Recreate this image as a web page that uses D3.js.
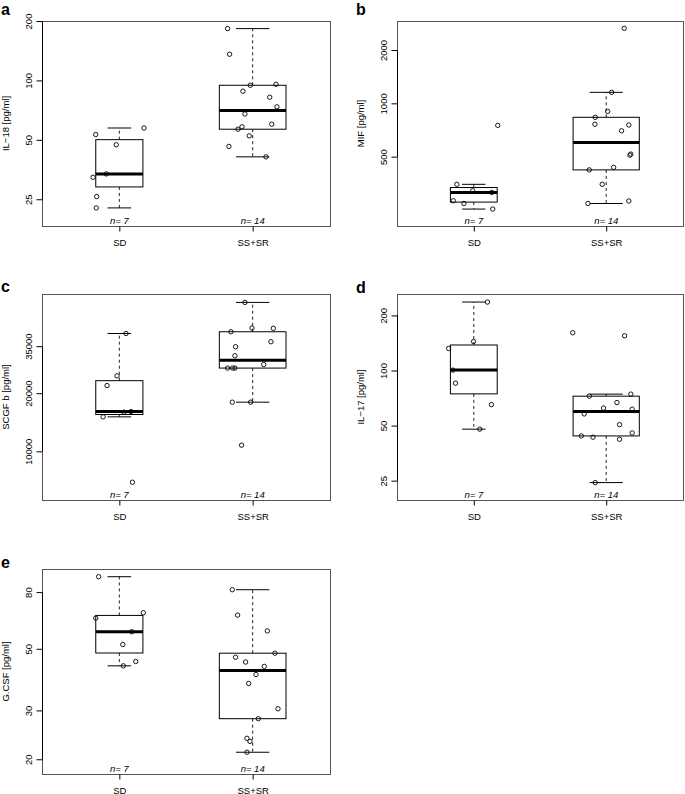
<!DOCTYPE html>
<html>
<head>
<meta charset="utf-8">
<script src="https://cdn.jsdelivr.net/npm/d3@7/dist/d3.min.js"></script>
<style>
  body { margin: 0; background: #fff; }
  text { font-family: "Liberation Sans", Arial, Helvetica, sans-serif; }
</style>
</head>
<body>
<svg id="chart" width="685" height="794"></svg>
<script>
var groups = ["SD", "SS+SR"];

// values, jitter = horizontal offset in group units
var il18SD = [57.4, 53.2, 47.2, 33.6, 32.3, 25.8, 22.6];
var il18SDJit = [0.185, -0.177, -0.023, -0.098, -0.197, -0.170, -0.173];
var il18SS = [183, 135.7, 94.5, 95.6, 88.2, 82.2, 73.5, 67.6, 60, 58.2, 56.6, 52.4, 46.3, 41];
var il18SSJit = [-0.188, -0.173, -0.018, 0.175, -0.073, 0.128, 0.182, -0.058, 0.143, -0.080, -0.110, -0.026, -0.178, 0.100];

var mifSD = [751, 349, 321, 314, 282, 272, 253];
var mifSDJit = [0.181, -0.128, -0.008, 0.136, -0.155, -0.075, 0.143];
var mifSS = [2652, 1154, 901, 834, 762, 755, 700, 517, 510, 435, 421, 349, 281, 272];
var mifSSJit = [0.136, 0.041, 0.011, -0.083, -0.085, 0.171, 0.116, 0.186, 0.179, 0.056, -0.128, -0.030, 0.171, -0.138];

var scgfSD = [40700, 24580, 21900, 16060, 15947, 15080, 6920];
var scgfSDJit = [0.050, -0.017, -0.092, 0.088, 0.035, -0.122, 0.098];
var scgfSS = [58940, 43440, 43300, 41560, 36890, 34760, 31220, 28130, 26960, 26960, 26960, 17960, 17960, 10760];
var scgfSSJit = [-0.058, -0.005, 0.155, -0.163, 0.137, -0.128, -0.133, 0.083, -0.188, -0.150, -0.133, -0.015, -0.153, -0.083];

var il17SD = [236.7, 144, 132, 100.5, 85.3, 65.1, 47.8];
var il17SDJit = [0.103, -0.002, -0.190, -0.158, -0.138, 0.133, 0.045];
var il17SS = [160.8, 154.8, 74.3, 72.4, 66.8, 62.3, 61.5, 57.9, 50.6, 45.6, 43.9, 43.2, 42.1, 24.4];
var il17SSJit = [-0.253, 0.139, 0.186, -0.128, 0.081, -0.020, 0.196, -0.166, 0.101, 0.196, -0.188, -0.100, 0.101, -0.083];

var gcsfSD = [90.9, 67.4, 64.5, 57.6, 51.8, 45, 43.4];
var gcsfSDJit = [-0.155, 0.180, -0.177, 0.093, 0.026, 0.123, 0.030];
var gcsfSS = [81.6, 66.1, 58, 48.2, 46.6, 44.8, 43.2, 40.4, 37.5, 30.4, 28, 23.8, 23.2, 21.2];
var gcsfSSJit = [-0.153, -0.113, 0.110, 0.167, -0.128, -0.053, 0.087, 0.025, -0.030, 0.190, 0.042, -0.043, -0.020, -0.043];

var il18Ticks = [25, 50, 100, 200];
var mifTicks = [500, 1000, 2000];
var scgfTicks = [10000, 20000, 35000];
var il17Ticks = [25, 50, 100, 200];
var gcsfTicks = [20, 30, 50, 80];

var panels = [
  { letter: "a", title: "IL\u221218 [pg/ml]", ticks: il18Ticks, sets: [[il18SD, il18SDJit], [il18SS, il18SSJit]],
    left: 42, right: 330, top: 21, bottom: 226, ylim: [18.3, 200], letterY: 14.5 },
  { letter: "b", title: "MIF [pg/ml]", ticks: mifTicks, sets: [[mifSD, mifSDJit], [mifSS, mifSSJit]],
    left: 397, right: 683, top: 21, bottom: 226, ylim: [203, 2917], letterY: 15 },
  { letter: "c", title: "SCGF b [pg/ml]", ticks: scgfTicks, sets: [[scgfSD, scgfSDJit], [scgfSS, scgfSSJit]],
    left: 42, right: 330, top: 294, bottom: 500, ylim: [5600, 65160], letterY: 292 },
  { letter: "d", title: "IL\u221217 [pg/ml]", ticks: il17Ticks, sets: [[il17SD, il17SDJit], [il17SS, il17SSJit]],
    left: 397, right: 683, top: 294, bottom: 500, ylim: [19.6, 261.9], letterY: 293 },
  { letter: "e", title: "G.CSF [pg/ml]", ticks: gcsfTicks, sets: [[gcsfSD, gcsfSDJit], [gcsfSS, gcsfSSJit]],
    left: 42, right: 330, top: 569, bottom: 774, ylim: [17.7, 96.9], letterY: 568 }
];

// Tukey five number summary (as R fivenum)
function fivenum(v) {
  var s = v.slice().sort(d3.ascending), n = s.length;
  var n4 = Math.floor((n + 3) / 2) / 2;
  return [1, n4, (n + 1) / 2, n + 1 - n4, n].map(function(d) {
    return 0.5 * (s[Math.floor(d) - 1] + s[Math.ceil(d) - 1]);
  });
}

// box stats on log values, whiskers at 1.5 IQR
function boxStats(values) {
  var lv = values.map(Math.log10);
  var f = fivenum(lv), iqr = f[3] - f[1];
  var inside = lv.filter(function(v) { return v >= f[1] - 1.5 * iqr && v <= f[3] + 1.5 * iqr; });
  var st = [d3.min(inside), f[1], f[2], f[3], d3.max(inside)];
  return st.map(function(v) { return Math.pow(10, v); });
}

var svg = d3.select("#chart");
var nMax = 14;

panels.forEach(function(p) {
  var x = d3.scaleLinear().domain([0.42, 2.58]).range([p.left, p.right]);
  var y = d3.scaleLog().domain(p.ylim).range([p.bottom, p.top]);
  var g = svg.append("g");

  p.sets.forEach(function(set, i) {
    var vals = set[0], jit = set[1];
    var st = boxStats(vals);
    var cx = i + 1;
    var hw = 0.25 * Math.sqrt(vals.length / nMax);
    var bg = g.append("g");

    // whiskers
    bg.append("line").attr("x1", x(cx)).attr("x2", x(cx))
      .attr("y1", y(st[3])).attr("y2", y(st[4]))
      .attr("stroke", "#222").attr("stroke-dasharray", "3,3");
    bg.append("line").attr("x1", x(cx)).attr("x2", x(cx))
      .attr("y1", y(st[1])).attr("y2", y(st[0]))
      .attr("stroke", "#222").attr("stroke-dasharray", "3,3");
    // staples
    [st[0], st[4]].forEach(function(v) {
      bg.append("line").attr("x1", x(cx - hw / 2)).attr("x2", x(cx + hw / 2))
        .attr("y1", y(v)).attr("y2", y(v)).attr("stroke", "#000");
    });
    // box
    bg.append("rect").attr("x", x(cx - hw)).attr("width", x(cx + hw) - x(cx - hw))
      .attr("y", y(st[3])).attr("height", y(st[1]) - y(st[3]))
      .attr("fill", "none").attr("stroke", "#000");
    // median
    bg.append("line").attr("x1", x(cx - hw)).attr("x2", x(cx + hw))
      .attr("y1", y(st[2])).attr("y2", y(st[2]))
      .attr("stroke", "#000").attr("stroke-width", 3);

    // points
    bg.selectAll("circle").data(vals).enter().append("circle")
      .attr("cx", function(d, k) { return x(cx + jit[k]); })
      .attr("cy", function(d) { return y(d); })
      .attr("r", 2.2).attr("fill", "none").attr("stroke", "#000").attr("stroke-width", 0.9);

    // n labels
    g.append("text").attr("x", x(cx)).attr("y", p.bottom - 2.5)
      .attr("text-anchor", "middle").attr("font-size", 9.5).attr("font-style", "italic")
      .text("n= " + vals.length);
  });

  // frame
  g.append("rect").attr("x", p.left + 0.5).attr("y", p.top + 0.5)
    .attr("width", p.right - p.left).attr("height", p.bottom - p.top)
    .attr("fill", "none").attr("stroke", "#555");

  // y axis
  var yAxis = d3.axisLeft(y).tickValues(p.ticks).tickFormat(d3.format("d")).tickSize(6);
  var ya = g.append("g").attr("transform", "translate(" + (p.left + 0.5) + ",0)").call(yAxis);
  ya.select(".domain").attr("d", "M0," + y(p.ticks[0]) + "V" + y(p.ticks[p.ticks.length - 1]));
  ya.selectAll(".tick text").attr("x", 0).attr("dy", 0)
    .attr("transform", "translate(-14,0) rotate(-90)")
    .attr("text-anchor", "middle").attr("dominant-baseline", "central")
    .attr("font-size", 9.5).attr("fill", "#000");

  // x axis
  var xAxis = d3.axisBottom(x).tickValues([1, 2]).tickFormat(function(d) { return groups[d - 1]; }).tickSize(5);
  var xa = g.append("g").attr("transform", "translate(0," + (p.bottom + 0.5) + ")").call(xAxis);
  xa.select(".domain").remove();
  xa.selectAll(".tick text").attr("y", 19).attr("dy", 0).attr("font-size", 9.5).attr("fill", "#000");
  g.selectAll(".tick line").attr("stroke", "#000");
  g.selectAll(".tick, .domain").attr("font-family", null);
  ya.attr("font-family", null);
  xa.attr("font-family", null);

  // y title
  g.append("text")
    .attr("transform", "translate(" + (p.left - 37) + "," + ((p.top + p.bottom) / 2) + ") rotate(-90)")
    .attr("text-anchor", "middle").attr("dominant-baseline", "central")
    .attr("font-size", 9.5).text(p.title);

  // panel letter
  g.append("text").attr("x", p.left - 41).attr("y", p.letterY)
    .attr("font-size", 16).attr("font-weight", "bold").text(p.letter);
});
</script>
</body>
</html>
